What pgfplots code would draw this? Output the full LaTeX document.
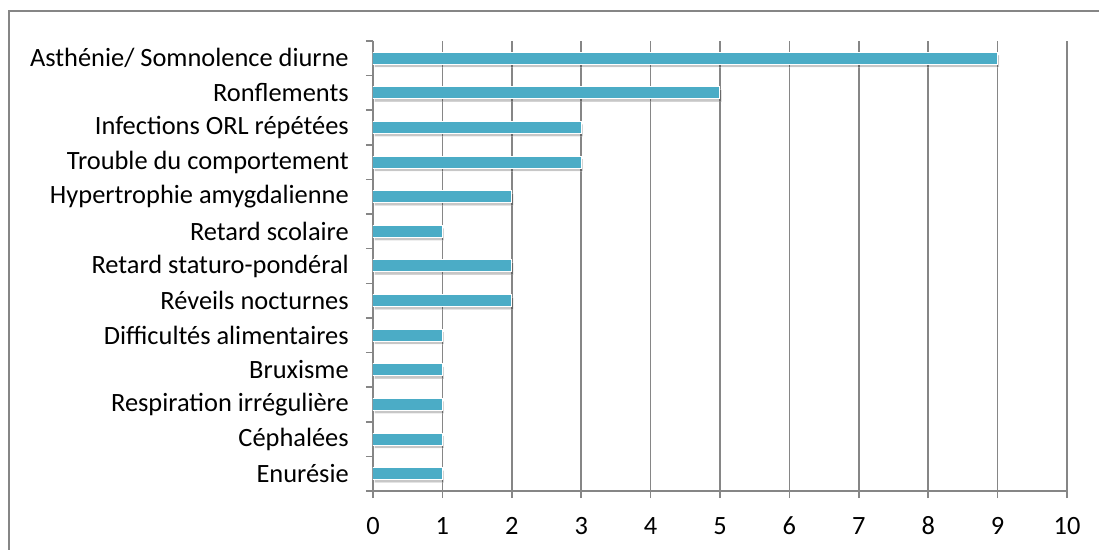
\documentclass[border=0pt]{standalone}
\usepackage{fontspec}
\setmainfont{Carlito}
\usepackage{pgfplots}
\pgfplotsset{compat=1.18}
\usetikzlibrary{shadows}
\definecolor{barc}{RGB}{75,172,198}
\definecolor{gridc}{RGB}{134,134,134}
\begin{document}
\begin{tikzpicture}
\begin{axis}[
    at={(0,0)}, anchor=south west,
    scale only axis,
    width=520.5bp, height=337.5bp,
    xmin=0, xmax=10, ymin=-0.5, ymax=12.5,
    axis lines*=left,
    axis line style={draw=gridc, line width=1.2bp, -},
    xtick={0,...,10},
    xmajorgrids,
    major grid style={draw=gridc, line width=1.2bp},
    x tick style={draw=gridc, line width=1.2bp},
    tick align=outside,
    major tick length=5.25bp,
    ytick={0,...,12},
    y tick style={draw=none},
    yticklabels={Enurésie, Céphalées, Respiration irrégulière, Bruxisme,
        Difficultés alimentaires, Réveils nocturnes, Retard staturo-pondéral,
        Retard scolaire, Hypertrophie amygdalienne, Trouble du comportement,
        Infections ORL répétées, Ronflements, Asthénie/ Somnolence diurne},
    extra y ticks={-0.5,0.5,...,12.5},
    extra y tick labels={},
    extra y tick style={y tick style={draw=gridc, line width=1.2bp}, major tick length=5.25bp},
    every tick label/.append style={font=\fontsize{19.8bp}{23bp}\selectfont, text=black},
    yticklabel style={inner sep=0pt, xshift=-12.75bp},
    xticklabel style={inner sep=0pt, anchor=base, yshift=-27.5bp},
    /pgf/number format/assume math mode=true,
]
\addplot[xbar, bar width=9bp, fill=barc, draw=white, line width=0.75bp,
    drop shadow={shadow xshift=1.2bp, shadow yshift=-2.2bp, opacity=0.22, fill=black}]
    coordinates {(1,0) (1,1) (1,2) (1,3) (1,4) (2,5) (2,6) (1,7) (2,8) (3,9) (3,10) (5,11) (9,12)};
\end{axis}
\draw[gridc, line width=1.2bp] (-273bp,-80bp) |- (580bp,360bp);
\pgfresetboundingbox
\path[use as bounding box] (-279.75bp,-44.25bp) rectangle (544.5bp,368.25bp);
\end{tikzpicture}
\end{document}
